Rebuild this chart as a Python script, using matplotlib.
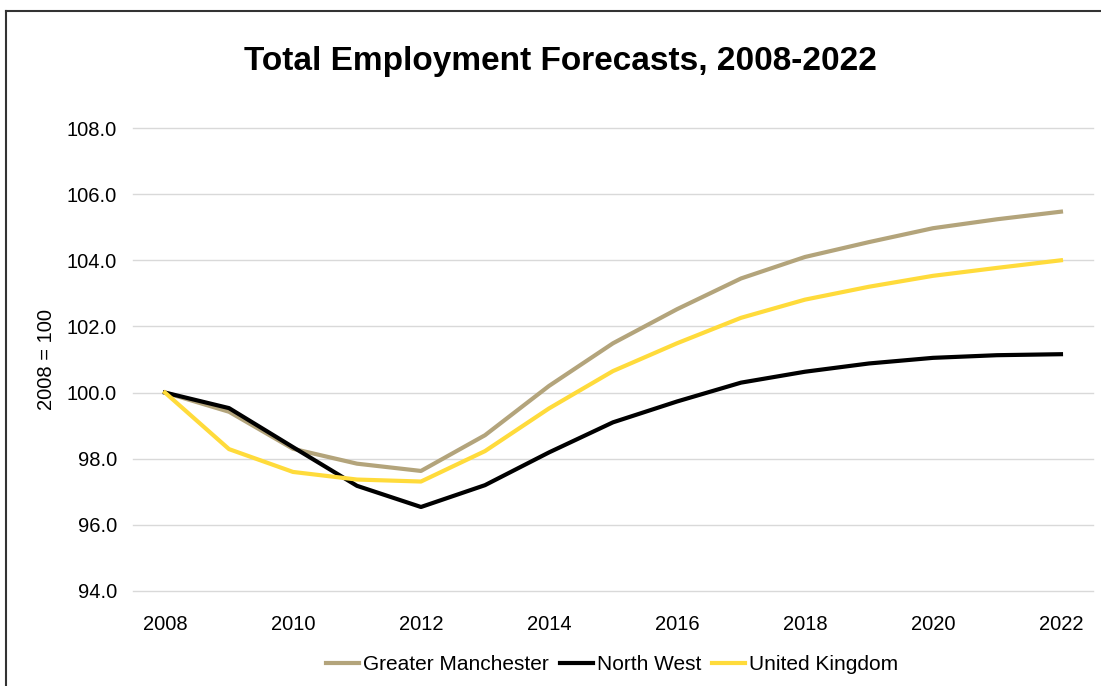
import matplotlib
matplotlib.use("Agg")
import matplotlib.pyplot as plt
from matplotlib.lines import Line2D

plt.rcParams['font.family'] = ['Liberation Sans', 'DejaVu Sans']

years = list(range(2008, 2023))
greater_manchester = [100.0, 99.42, 98.3, 97.85, 97.63, 98.71, 100.2, 101.49, 102.52, 103.45,
                      104.1, 104.55, 104.97, 105.24, 105.47]
north_west = [100.0, 99.53, 98.35, 97.18, 96.54, 97.2, 98.19, 99.1, 99.73, 100.3,
              100.63, 100.88, 101.05, 101.13, 101.16]
united_kingdom = [100.0, 98.29, 97.6, 97.37, 97.31, 98.23, 99.52, 100.65, 101.49, 102.26,
                  102.81, 103.2, 103.53, 103.77, 104.0]

fig = plt.figure(figsize=(11.01, 6.86), dpi=100)
ax = fig.add_axes([0.1208, 0.1385, 0.8719, 0.6749])

ax.plot(years, greater_manchester, color='#B3A47B', lw=3, label='Greater Manchester')
ax.plot(years, north_west, color='black', lw=3, label='North West')
ax.plot(years, united_kingdom, color='#FFDB3B', lw=3, label='United Kingdom')

ax.set_xlim(2007.5, 2022.5)
ax.set_ylim(94, 108)
ax.set_xticks(range(2008, 2023, 2))
ax.set_yticks(range(94, 109, 2))
ax.set_yticklabels(['%.1f' % v for v in range(94, 109, 2)])
ax.tick_params(axis='both', length=0, labelsize=14.5)
ax.tick_params(axis='x', pad=17)
ax.tick_params(axis='y', pad=11.5)
ax.grid(axis='y', color='#D9D9D9', lw=1)
for gl in ax.get_ygridlines():
    gl.set_clip_on(False)
ax.set_axisbelow(True)
for s in ax.spines.values():
    s.set_visible(False)

ax.set_ylabel('2008 = 100', fontsize=14.5)
ax.yaxis.set_label_coords(-0.08, 0.5)

fig.text(0.509, 0.91, 'Total Employment Forecasts, 2008-2022', fontsize=24,
         fontweight='bold', ha='center', va='center')

fig.legend(loc='center', bbox_to_anchor=(0.556, 0.031), ncol=3, frameon=False,
           fontsize=15, handlelength=1.6, handletextpad=0.2, columnspacing=0.5)

# chart border (cropped on right and bottom)
fig.add_artist(Line2D([0.0054, 0.0054], [0, 0.984], color='#333333', lw=1.5,
                      transform=fig.transFigure))
fig.add_artist(Line2D([0.0054, 1.0], [0.984, 0.984], color='#333333', lw=1.5,
                      transform=fig.transFigure))

fig.savefig('out.png', dpi=100)
